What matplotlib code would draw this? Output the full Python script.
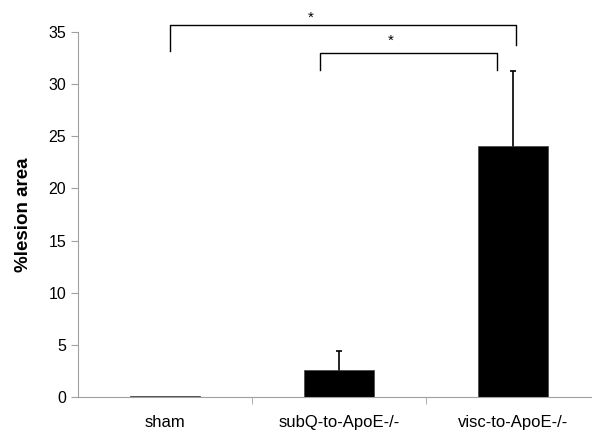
import numpy as np
import matplotlib.pyplot as plt

plt.rcParams['font.family'] = ['Liberation Sans', 'DejaVu Sans']

groups = ['sham', 'subQ-to-ApoE-/-', 'visc-to-ApoE-/-']
means = [0.1, 2.6, 24.1]
sem = [0.05, 1.8, 7.2]

# significance brackets: (left x, right x, bar height, left drop, right drop, star x, star y)
brackets = [
    (0.03, 2.02, 35.7, 33.2, 33.75, 0.84, 36.4),
    (0.89, 1.91, 33.0, 31.35, 31.35, 1.30, 34.2),
]

fig = plt.figure(figsize=(5.92, 4.30), dpi=100)
ax = fig.add_axes([0.1318, 0.0767, 0.8682, 0.8489])

x = np.arange(len(groups))
ax.bar(x, means, width=0.4, color='black', edgecolor='#404040', linewidth=0.5, zorder=2)
# error bars sit behind the bars so only the upper half shows
ax.errorbar(x[1:], means[1:], yerr=[np.full(2, 1.0), sem[1:]], fmt='none',
            ecolor='black', elinewidth=1.2, capsize=2.5, capthick=1.2, zorder=1)

for x0, x1, h, d0, d1, sx, sy in brackets:
    ax.plot([x0, x0, x1, x1], [d0, h, h, d1], color='black', lw=1, clip_on=False)
    ax.text(sx, sy, '*', ha='center', va='center', fontsize=11, clip_on=False)

ax.set_xlim(-0.5, 2.454)
ax.set_ylim(0, 35)
ax.set_yticks(range(0, 36, 5))
ax.set_xticks(x)
ax.set_xticklabels(groups, fontsize=12)
ax.set_xticks([0.5, 1.5], minor=True)
ax.tick_params(axis='x', which='major', length=0, pad=13)
ax.tick_params(axis='x', which='minor', length=5, color='#a0a0a0')
ax.tick_params(axis='y', length=5, color='#a0a0a0', labelsize=11.5)
ax.set_ylabel('%lesion area', fontsize=13.5, fontweight='bold', labelpad=12)

for side in ['top', 'right']:
    ax.spines[side].set_visible(False)
for side in ['left', 'bottom']:
    ax.spines[side].set_color('#a0a0a0')

fig.savefig('out.png', dpi=100)
